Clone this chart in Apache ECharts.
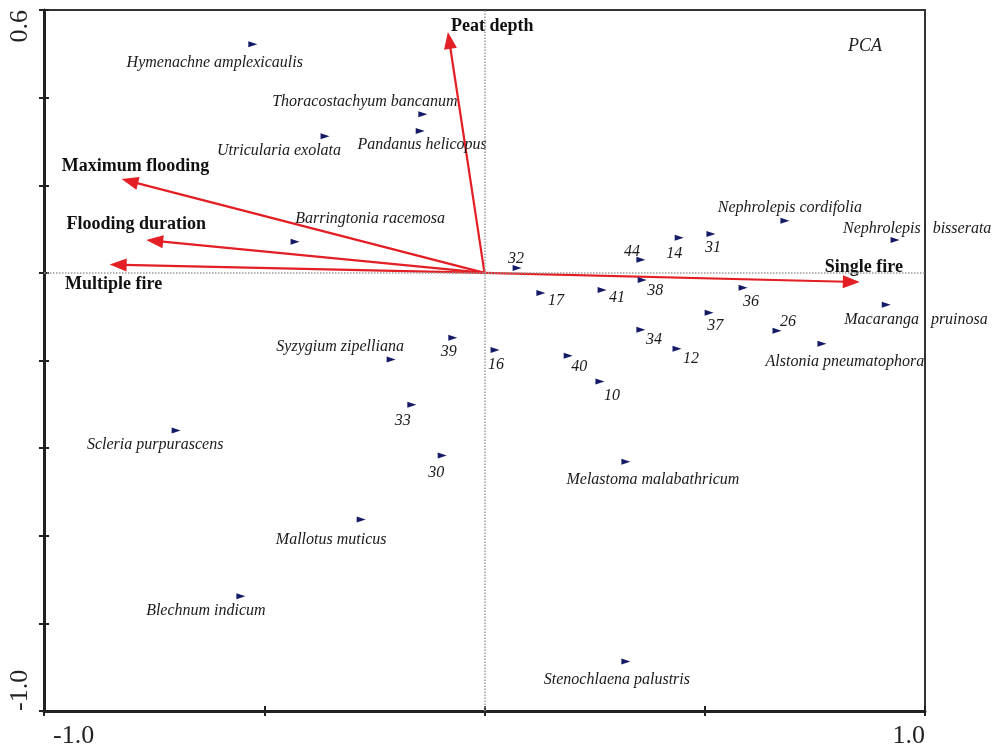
<!DOCTYPE html>
<html><head><meta charset="utf-8">
<script src="https://cdn.jsdelivr.net/npm/echarts@6/dist/echarts.min.js"></script>
<style>html,body{margin:0;padding:0;background:#fff}#c{width:993px;height:752px}</style>
</head><body><div id="c"></div>
<script>
// ---- data ----
const speciesNames = ['Hymenachne amplexicaulis', 'Thoracostachyum bancanum', 'Pandanus helicopus', 'Utricularia exolata', 'Barringtonia racemosa', 'Syzygium zipelliana', 'Scleria purpurascens', 'Mallotus muticus', 'Blechnum indicum', 'Stenochlaena palustris', 'Melastoma malabathricum', 'Nephrolepis cordifolia', 'Nephrolepis   bisserata', 'Macaranga   pruinosa', 'Alstonia pneumatophora'];
const speciesX = [-0.526, -0.140, -0.146, -0.362, -0.430, -0.212, -0.700, -0.280, -0.553, 0.321, 0.321, 0.682, 0.932, 0.912, 0.766];
const speciesY = [0.522, 0.362, 0.324, 0.312, 0.071, -0.198, -0.360, -0.563, -0.738, -0.887, -0.431, 0.119, 0.075, -0.073, -0.162];

const siteNames = ['32', '44', '14', '31', '38', '17', '41', '36', '37', '26', '34', '12', '40', '10', '16', '39', '33', '30'];
const siteX = [0.074, 0.355, 0.442, 0.514, 0.358, 0.128, 0.267, 0.587, 0.510, 0.664, 0.355, 0.437, 0.190, 0.262, 0.024, -0.072, -0.165, -0.096];
const siteY = [0.011, 0.030, 0.080, 0.089, -0.016, -0.046, -0.039, -0.034, -0.091, -0.132, -0.130, -0.173, -0.189, -0.248, -0.176, -0.148, -0.301, -0.417];

const varNames = ['Peat depth', 'Maximum flooding', 'Flooding duration', 'Multiple fire', 'Single fire'];
const varX = [-0.083, -0.824, -0.768, -0.851, 0.852];
const varY = [0.550, 0.214, 0.075, 0.019, -0.021];

const xTickLabels = ['-1.0', '', '', '', '1.0'];
const yTickLabels = ['-1.0', '', '', '', '', '', '', '', '0.6'];

// ---- label placement (pixel offsets, separate from data) ----
const speciesLabelOffsets = [[-38,19],[-58,-12],[2,14],[-46,15],[75,-23],[-51,-13],[-21,14],[-30,20],[-35,15],[-9,18],[27,18],[5,-13],[-52,-11],[-42,15],[23,18]];
const speciesLabelAlign = ['center','center','center','center','center','center','center','center','center','center','center','center','left','left','center'];
const siteLabelOffsets = [[-1,-9],[-9,-8],[-5,16],[2,14],[13,11],[15,8],[15,8],[8,14],[6,13],[11,-9],[13,10],[14,10],[11,11],[12,14],[1,15],[-4,14],[-9,16],[-6,17]];
const varLabelOffsets = [[3,-6],[14,-13],[-10,-16],[4,20],[4,-15]];
const varLabelAlign = ['left','center','center','center','center'];

const SERIF = '"Liberation Serif", "Times New Roman", serif';
const RED = '#e31e24';
const NAVY = '#141a66';
const X_MIN = -1.0, X_MAX = 1.0, X_INT = 0.5;
const Y_MIN = -1.0, Y_MAX = 0.6, Y_INT = 0.2;

const chart = echarts.init(document.getElementById('c'), null, {renderer: 'canvas'});

const markerStyle = {
  symbol: 'triangle', symbolSize: [6, 9], symbolRotate: -90,
  itemStyle: {color: NAVY, opacity: 1}
};
const ptLabel = {
  show: true, position: 'inside', formatter: '{b}',
  fontFamily: SERIF, fontStyle: 'italic', fontSize: 16, color: '#1a1a1a',
  textBorderWidth: 0, textBorderColor: 'transparent', opacity: 1
};

const option = {
  animation: false,
  backgroundColor: '#fff',
  title: {
    text: 'PCA', left: 843, top: 32,
    textStyle: {fontFamily: SERIF, fontStyle: 'italic', fontWeight: 'normal', fontSize: 18, color: '#222'}
  },
  grid: {left: 44, top: 10, right: 68, bottom: 41, show: true, borderColor: '#333', borderWidth: 2, backgroundColor: 'transparent'},
  xAxis: [{
    type: 'value', min: X_MIN, max: X_MAX, interval: X_INT, position: 'bottom',
    axisLine: {show: true, onZero: false, lineStyle: {color: '#222', width: 3}},
    axisTick: {show: true, inside: false, length: 5, lineStyle: {color: '#222', width: 2}},
    splitLine: {show: false},
    axisLabel: {
      show: true, margin: 12, fontFamily: SERIF, fontSize: 26, color: '#222',
      alignMinLabel: 'left', alignMaxLabel: 'right', padding: [0, 0, 0, 9],
      formatter: (v) => xTickLabels[Math.round((v - X_MIN) / X_INT)] || ''
    }
  }, {
    type: 'value', min: X_MIN, max: X_MAX, interval: X_INT, position: 'bottom',
    axisLine: {show: false, onZero: false},
    axisTick: {show: true, inside: true, length: 5, lineStyle: {color: '#222', width: 2}},
    axisLabel: {show: false}, splitLine: {show: false}
  }],
  yAxis: [{
    type: 'value', min: Y_MIN, max: Y_MAX, interval: Y_INT, position: 'left',
    axisLine: {show: true, onZero: false, lineStyle: {color: '#222', width: 3}},
    axisTick: {show: true, inside: false, length: 5, lineStyle: {color: '#222', width: 2}},
    splitLine: {show: false},
    axisLabel: {
      show: true, rotate: 90, margin: 11, fontFamily: SERIF, fontSize: 26, color: '#222',
      alignMinLabel: 'left', alignMaxLabel: 'right',
      formatter: (v) => yTickLabels[Math.round((v - Y_MIN) / Y_INT)] || ''
    }
  }, {
    type: 'value', min: Y_MIN, max: Y_MAX, interval: Y_INT, position: 'left',
    axisLine: {show: false, onZero: false},
    axisTick: {show: true, inside: true, length: 5, lineStyle: {color: '#222', width: 2}},
    axisLabel: {show: false}, splitLine: {show: false}
  }],
  series: [
    {
      type: 'scatter', name: 'zero', data: [], silent: true,
      markLine: {
        silent: true, symbol: 'none', animation: false,
        label: {show: false},
        lineStyle: {type: 'dotted', color: '#9a9a9a', width: 1.5},
        data: [{xAxis: 0}, {yAxis: 0}]
      }
    },
    {
      type: 'custom', name: 'variables', coordinateSystem: 'cartesian2d', z: 3,
      data: varX.map((x, i) => [x, varY[i]]),
      encode: {x: 0, y: 1},
      renderItem: function (params, api) {
        const i = params.dataIndex;
        const o = api.coord([0, 0]);
        const p = api.coord([api.value(0), api.value(1)]);
        const dx = p[0] - o[0], dy = p[1] - o[1];
        const L = Math.hypot(dx, dy);
        const ux = dx / L, uy = dy / L;
        const hl = 17, hw = 6.5;
        const bx = p[0] - ux * hl, by = p[1] - uy * hl;
        const off = varLabelOffsets[i];
        return {
          type: 'group',
          children: [
            {type: 'line', shape: {x1: o[0], y1: o[1], x2: bx + ux * 3, y2: by + uy * 3},
             style: {stroke: RED, lineWidth: 2.2}},
            {type: 'polygon', shape: {points: [[p[0], p[1]], [bx - uy * hw, by + ux * hw], [bx + uy * hw, by - ux * hw]]},
             style: {fill: RED}},
            {type: 'text', x: p[0] + off[0], y: p[1] + off[1],
             style: {text: varNames[i], font: 'bold 18px ' + SERIF, fill: '#111',
                     align: varLabelAlign[i], verticalAlign: 'middle'}}
          ]
        };
      }
    },
    Object.assign({
      type: 'scatter', name: 'species', z: 4,
      data: speciesX.map((x, i) => ({
        name: speciesNames[i], value: [x, speciesY[i]],
        label: {offset: speciesLabelOffsets[i], align: speciesLabelAlign[i]}
      })),
      label: ptLabel
    }, markerStyle),
    Object.assign({
      type: 'scatter', name: 'sites', z: 4,
      data: siteX.map((x, i) => ({
        name: siteNames[i], value: [x, siteY[i]],
        label: {offset: siteLabelOffsets[i]}
      })),
      label: ptLabel
    }, markerStyle)
  ]
};
chart.setOption(option);
</script>
</body></html>
